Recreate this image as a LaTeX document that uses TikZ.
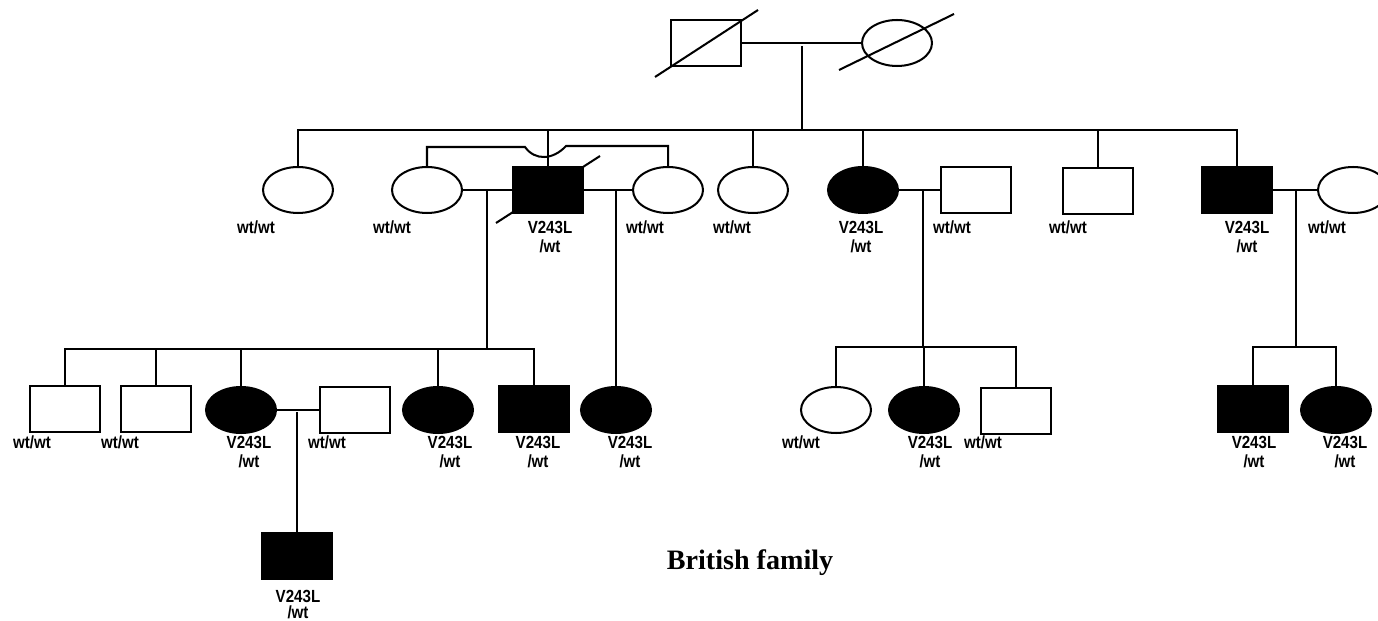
\documentclass[tikz,border=0pt]{standalone}
\usepackage{fontspec}
\newfontfamily\lblfont[FakeStretch=0.86]{Liberation Sans}
\newfontfamily\ttlfont{Liberation Serif}
\usetikzlibrary{shapes.geometric}
\tikzstyle{male} = [rectangle, minimum width=1.4cm, minimum height=0.92cm, inner sep=0pt,
  draw=black, fill=white]
\tikzstyle{female} = [ellipse, minimum width=1.4cm, minimum height=0.92cm, inner sep=0pt,
  draw=black, fill=white]
\tikzstyle{aff} = [fill=black]
\tikzstyle{geno} = [anchor=north, inner sep=0pt, align=center,
  font=\lblfont\bfseries\fontsize{10}{11}\selectfont]

\begin{document}
\begin{tikzpicture}[x=0.02cm, y=-0.02cm, line width=1.15pt]
  \useasboundingbox (0,0) rectangle (1378,621);
  % generation I
  \node (gf) [male] at (706,43) {};
  \node (gm) [female] at (897,43) {};
  \draw (655,77) -- (758,10);
  \draw (839,70) -- (954,14);
  \draw (gf.east) -- (gm.west);
  \coordinate (m0) at (802,46);
  \coordinate (s2) at (0,130);
  \draw (m0) -- (m0 |- s2);
  % generation II
  \node (II1) [female] at (298,190) {};
  \node (II2) [female] at (427,190) {};
  \draw (496,223) -- (600,156);
  \node (II3) [male, aff] at (548,190) {};
  \node (II4) [female] at (668,190) {};
  \node (II5) [female] at (753,190) {};
  \node (II6) [female, aff] at (863,190) {};
  \node (II7) [male] at (976,190) {};
  \node (II8) [male] at (1098,191) {};
  \node (II9) [male, aff] at (1237,190) {};
  \node (II10) [female] at (1353,190) {};
  \draw (II1.north) |- (II9.north |- s2) -- (II9.north);
  \foreach \n in {3,5,6,8}
    \draw (II\n.north) -- (II\n.north |- s2);
  % second marriages crossing over
  \coordinate (hl) at (525,147);
  \coordinate (hr) at (566,146);
  \draw (II2.north) |- (hl) .. controls (535,161) and (553,160) .. (hr) -| (II4.north);
  \node (II1g) [geno] at (256,220) {wt/wt};
  \node (II2g) [geno] at (392,220) {wt/wt};
  \node (II3g) [geno] at (550,220) {V243L\\/wt};
  \node (II4g) [geno] at (645,220) {wt/wt};
  \node (II5g) [geno] at (732,220) {wt/wt};
  \node (II6g) [geno] at (861,220) {V243L\\/wt};
  \node (II7g) [geno] at (952,220) {wt/wt};
  \node (II8g) [geno] at (1068,220) {wt/wt};
  \node (II9g) [geno] at (1247,220) {V243L\\/wt};
  \node (II10g) [geno] at (1327,220) {wt/wt};
  % marriages of generation II
  \draw (II2.east) -- (II3.west);
  \draw (II3.east) -- (II4.west);
  \draw (II6.east) -- (II7.west);
  \draw (II9.east) -- (II10.west);
  \coordinate (m1) at (487,190);
  \coordinate (m2) at (616,190);
  \coordinate (m3) at (923,190);
  \coordinate (m4) at (1296,190);
  \coordinate (s3a) at (0,349);
  \coordinate (s3b) at (0,347);
  % generation III
  \node (III1) [male] at (65,409) {};
  \node (III2) [male] at (156,409) {};
  \node (III3) [female, aff] at (241,410) {};
  \node (III4) [male] at (355,410) {};
  \node (III5) [female, aff] at (438,410) {};
  \node (III6) [male, aff] at (534,409) {};
  \node (III7) [female, aff] at (616,410) {};
  \node (III8) [female] at (836,410) {};
  \node (III9) [female, aff] at (924,410) {};
  \node (III10) [male] at (1016,411) {};
  \node (III11) [male, aff] at (1253,409) {};
  \node (III12) [female, aff] at (1336,410) {};
  \draw (m1) -- (m1 |- s3a);
  \draw (III1.north) |- (III6.north |- s3a) -- (III6.north);
  \foreach \n in {2,3,5}
    \draw (III\n.north) -- (III\n.north |- s3a);
  \draw (m2) -- (III7.north);
  \draw (m3) -- (m3 |- s3b);
  \draw (III8.north) |- (III10.north |- s3b) -- (III10.north);
  \draw (III9.north) -- (III9.north |- s3b);
  \draw (m4) -- (m4 |- s3b);
  \draw (III11.north) |- (III12.north |- s3b) -- (III12.north);
  \node (III1g) [geno] at (32,435) {wt/wt};
  \node (III2g) [geno] at (120,435) {wt/wt};
  \node (III3g) [geno] at (249,435) {V243L\\/wt};
  \node (III4g) [geno] at (327,435) {wt/wt};
  \node (III5g) [geno] at (450,435) {V243L\\/wt};
  \node (III6g) [geno] at (538,435) {V243L\\/wt};
  \node (III7g) [geno] at (630,435) {V243L\\/wt};
  \node (III8g) [geno] at (801,435) {wt/wt};
  \node (III9g) [geno] at (930,435) {V243L\\/wt};
  \node (III10g) [geno] at (983,435) {wt/wt};
  \node (III11g) [geno] at (1254,435) {V243L\\/wt};
  \node (III12g) [geno] at (1345,435) {V243L\\/wt};
  % generation IV
  \draw (III3.east) -- (III4.west);
  \coordinate (m5) at (297,412);
  \node (IV1) [male, aff] at (297,556) {};
  \draw (m5) -- (IV1.north);
  \node (IV1g) [geno, font=\lblfont\bfseries\fontsize{10}{9}\selectfont] at (298,589) {V243L\\/wt};
  \node (title) [anchor=base, inner sep=0pt, font=\ttlfont\bfseries\fontsize{16}{18}\selectfont]
    at (750,569) {British family};
\end{tikzpicture}
\end{document}
